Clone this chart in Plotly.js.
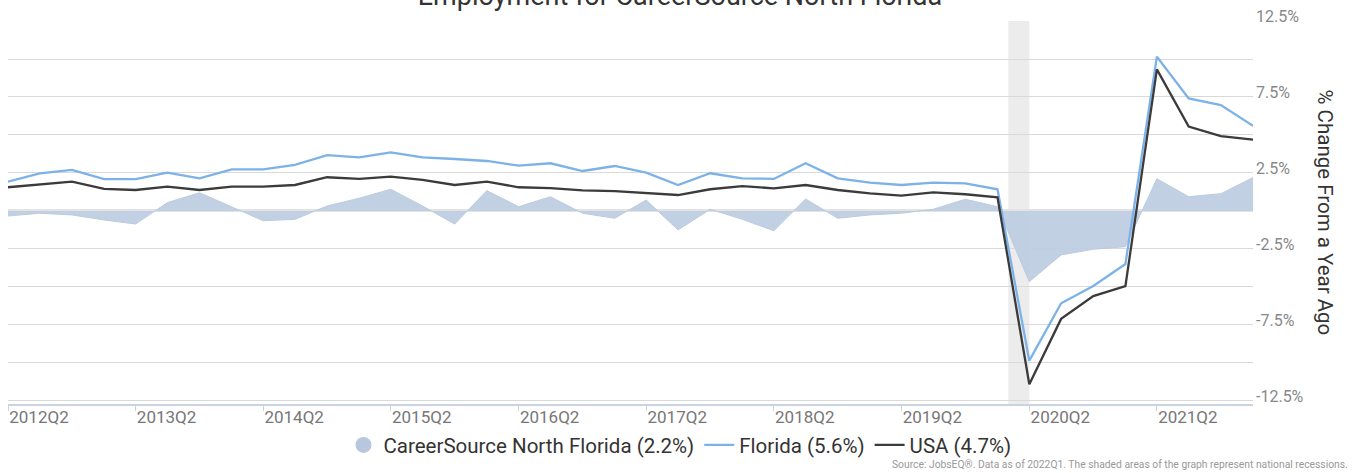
<!DOCTYPE html>
<html>
<head>
<meta charset="utf-8">
<script src="https://cdn.plot.ly/plotly-3.0.1.min.js"></script>
<style>html,body{margin:0;padding:0;background:#fff;}#chart{width:1360px;height:473px;}</style>
</head>
<body>
<div id="chart"></div>
<script>
const quarters = ["2012Q2","2012Q3","2012Q4","2013Q1","2013Q2","2013Q3","2013Q4","2014Q1","2014Q2","2014Q3","2014Q4","2015Q1","2015Q2","2015Q3","2015Q4","2016Q1","2016Q2","2016Q3","2016Q4","2017Q1","2017Q2","2017Q3","2017Q4","2018Q1","2018Q2","2018Q3","2018Q4","2019Q1","2019Q2","2019Q3","2019Q4","2020Q1","2020Q2","2020Q3","2020Q4","2021Q1","2021Q2","2021Q3","2021Q4","2022Q1"];

const careerSource = [-0.33,-0.15,-0.26,-0.59,-0.86,0.55,1.20,0.28,-0.64,-0.55,0.33,0.84,1.43,0.33,-0.86,1.34,0.28,0.94,-0.15,-0.48,0.72,-1.25,0.11,-0.55,-1.30,0.79,-0.48,-0.26,-0.15,0.11,0.77,0.28,-4.65,-2.89,-2.52,-2.35,2.12,0.94,1.14,2.2];

const florida = [1.93,2.48,2.70,2.09,2.09,2.52,2.15,2.74,2.74,3.03,3.68,3.53,3.86,3.53,3.42,3.29,2.98,3.14,2.63,2.96,2.52,1.71,2.48,2.15,2.11,3.14,2.15,1.86,1.71,1.86,1.82,1.43,-9.85,-6.07,-4.93,-3.49,10.15,7.41,6.97,5.6];

const usa = [1.56,1.76,1.93,1.45,1.38,1.60,1.38,1.60,1.60,1.71,2.22,2.11,2.26,2.04,1.71,1.93,1.56,1.51,1.36,1.30,1.20,1.05,1.43,1.64,1.49,1.71,1.38,1.16,1.01,1.23,1.10,0.90,-11.4,-7.1,-5.6,-4.95,9.32,5.55,4.93,4.7];

const seriesNames = ["CareerSource North Florida (2.2%)","Florida (5.6%)","USA (4.7%)"];
const tickQuarters = ["2012Q2","2013Q2","2014Q2","2015Q2","2016Q2","2017Q2","2018Q2","2019Q2","2020Q2","2021Q2"];
const yTickValues = [-12.5,-10,-7.5,-5,-2.5,0,2.5,5,7.5,10,12.5];
const yTickLabels = ["-12.5%","","-7.5%","","-2.5%","","2.5%","","7.5%","","12.5%"];
const recessionStart = "2020-02-01";
const recessionEnd = "2020-04-01";

function qToDate(q){
  const y = q.slice(0,4);
  const n = parseInt(q.slice(5),10);
  const m = String((n-1)*3+1).padStart(2,"0");
  return y + "-" + m + "-01";
}
const xDates = quarters.map(qToDate);

const traces = [
  {
    x: xDates, y: careerSource, type: "scatter", mode: "lines",
    fill: "tozeroy", fillcolor: "rgba(190,205,224,0.95)",
    line: {color: "#bccbdf", width: 1},
    name: seriesNames[0], showlegend: false, hoverinfo: "skip"
  },
  {
    x: [null], y: [null], type: "scatter", mode: "markers",
    marker: {symbol: "circle", size: 17, color: "#b7c7dd"},
    name: seriesNames[0], showlegend: true
  },
  {
    x: xDates, y: florida, type: "scatter", mode: "lines",
    line: {color: "#7db2e8", width: 2.3},
    name: seriesNames[1]
  },
  {
    x: xDates, y: usa, type: "scatter", mode: "lines",
    line: {color: "#3b3b3b", width: 2.3},
    name: seriesNames[2]
  }
];

const layout = {
  width: 1360, height: 473,
  margin: {l: 8, r: 107, t: 21, b: 69, pad: 0},
  paper_bgcolor: "#fff", plot_bgcolor: "#fff",
  font: {family: "Roboto, 'Open Sans', sans-serif", color: "#333"},
  title: {
    text: "Employment for CareerSource North Florida",
    font: {size: 27, color: "#333", family: "Roboto, sans-serif"},
    x: 0.5, xref: "container", xanchor: "center",
    y: 1, yref: "container", yanchor: "top",
    pad: {t: -14}
  },
  xaxis: {
    type: "date",
    range: [qToDate(quarters[0]), qToDate(quarters[quarters.length-1])],
    tickvals: tickQuarters.map(qToDate),
    ticktext: tickQuarters,
    ticks: "outside", ticklen: 5, tickcolor: "#c9d3e2", tickwidth: 1,
    ticklabelshift: 31, ticklabelstandoff: -8,
    showgrid: false, zeroline: false,
    showline: true, linecolor: "#c9d3e2", linewidth: 2,
    tickfont: {size: 17, color: "#777", family: "Roboto, sans-serif"},
    fixedrange: true
  },
  yaxis: {
    side: "right",
    range: [-12.7, 12.5],
    tickvals: yTickValues, ticktext: yTickLabels,
    ticks: "", ticklabelstandoff: 2,
    ticklabelshift: -5,
    showgrid: true, gridcolor: "#d9d9d9", gridwidth: 1,
    zeroline: true, zerolinecolor: "#e3e3e3", zerolinewidth: 3,
    showline: false,
    tickfont: {size: 16, color: "#888", family: "Roboto, sans-serif"},
    fixedrange: true
  },
  shapes: [{
    type: "rect", xref: "x", yref: "paper",
    x0: recessionStart, x1: recessionEnd, y0: 0, y1: 1,
    fillcolor: "#ececec", line: {width: 0}, layer: "below"
  }],
  legend: {
    orientation: "h",
    xref: "container", yref: "container",
    x: 0.5, xanchor: "center", y: 0.059, yanchor: "middle",
    font: {size: 20.5, color: "#333", family: "Roboto, sans-serif"},
    itemwidth: 30, tracegroupgap: 0, bgcolor: "rgba(0,0,0,0)"
  },
  annotations: [
    {
      text: "% Change From a Year Ago", textangle: 90,
      xref: "paper", yref: "paper", x: 1, y: 0.5,
      xanchor: "center", yanchor: "middle", xshift: 72, showarrow: false,
      font: {size: 20.5, color: "#333", family: "Roboto, sans-serif"}
    },
    {
      text: "Source: JobsEQ®. Data as of 2022Q1. The shaded areas of the graph represent national recessions.",
      xref: "paper", yref: "paper", x: 1.0779, y: -0.159,
      xanchor: "right", yanchor: "middle", showarrow: false,
      font: {size: 10.3, color: "#999", family: "Roboto, sans-serif"}
    }
  ],
  showlegend: true
};

Plotly.newPlot("chart", traces, layout, {displayModeBar: false, staticPlot: true});
</script>
</body>
</html>
